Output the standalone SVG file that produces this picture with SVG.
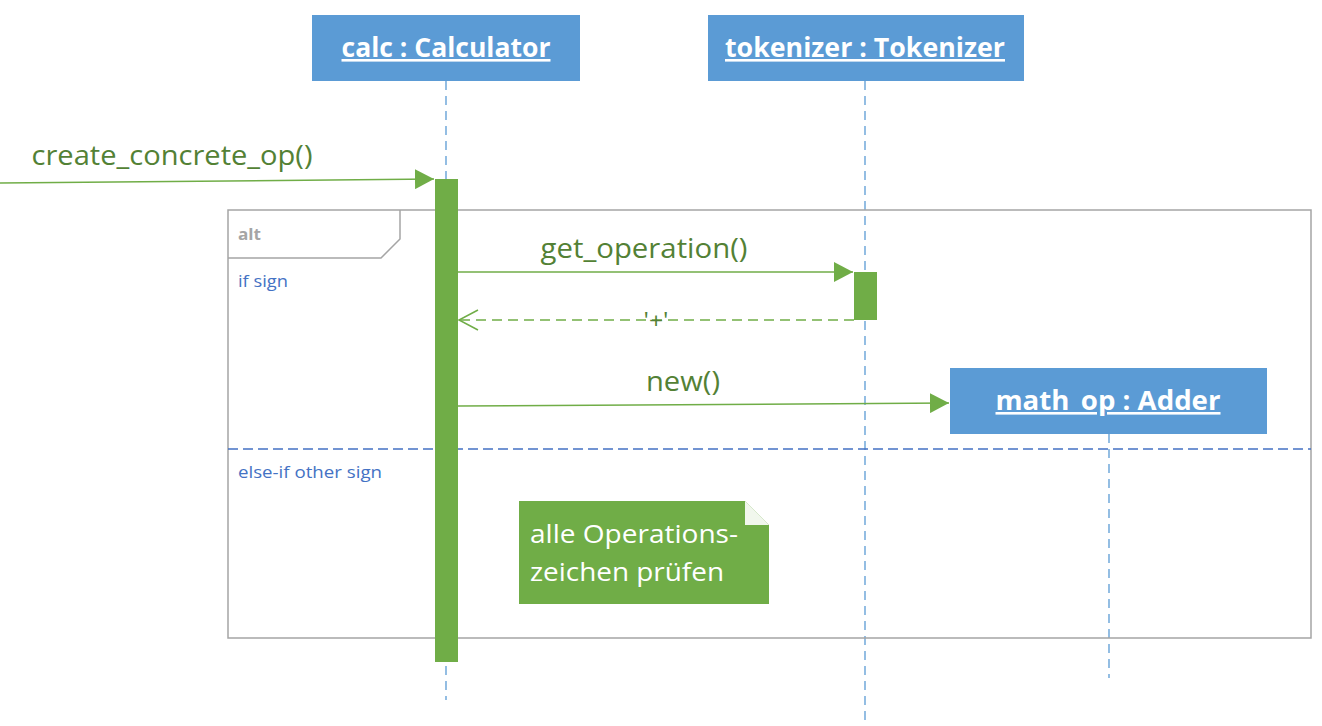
<svg xmlns="http://www.w3.org/2000/svg" width="1322" height="726" viewBox="0 0 1322 726">
<defs>
<style>
.obj{fill:#5B9BD5}
.objt{font-family:"Open Sans","Liberation Sans",sans-serif;font-weight:bold;font-size:26px;fill:#fff;text-decoration:underline;text-anchor:middle}
.life{stroke:#5B9BD5;stroke-width:1.3;stroke-dasharray:9 6;fill:none}
.act{fill:#70AD47}
.msg{stroke:#70AD47;stroke-width:1.5;fill:none}
.msgt{font-family:"Open Sans","Liberation Sans",sans-serif;font-size:27px;fill:#538135;text-anchor:middle}
.frame{stroke:#A5A5A5;stroke-width:1.5;fill:none}
.guard{font-family:"Open Sans","Liberation Sans",sans-serif;font-size:17px;fill:#4472C4}
.note{font-family:"Open Sans","Liberation Sans",sans-serif;font-size:26px;fill:#fff}
</style>
<marker id="filled" markerWidth="20" markerHeight="20" refX="19" refY="10" orient="auto" markerUnits="userSpaceOnUse">
<path d="M0,0 L19,10 L0,20 Z" fill="#70AD47"/>
</marker>
<marker id="open" markerWidth="22" markerHeight="22" refX="20" refY="11" orient="auto" markerUnits="userSpaceOnUse">
<path d="M1,1 L20,11 L1,21" fill="none" stroke="#70AD47" stroke-width="1.5"/>
</marker>
</defs>
<rect width="1322" height="726" fill="#fff"/>

<g id="lifelines">
<line class="life" x1="446" y1="81" x2="446" y2="700"/>
<line class="life" x1="865" y1="81" x2="865" y2="720"/>
<line class="life" x1="1109" y1="434" x2="1109" y2="678"/>
</g>

<g id="alt-frame">
<rect class="frame" x="228" y="210" width="1083" height="428"/>
<path class="frame" d="M228,258 L381,258 L400,239 L400,210"/>
<text x="238" y="240" font-family="Open Sans, Liberation Sans, sans-serif" font-size="16" font-weight="bold" fill="#A5A5A5" textLength="23" lengthAdjust="spacingAndGlyphs">alt</text>
<line x1="228" y1="449" x2="1311" y2="449" stroke="#4472C4" stroke-width="1.3" stroke-dasharray="10 5"/>
<text class="guard" x="238" y="287" textLength="50" lengthAdjust="spacingAndGlyphs">if sign</text>
<text class="guard" x="238" y="478" textLength="144" lengthAdjust="spacingAndGlyphs">else-if other sign</text>
</g>

<g id="calc">
<rect class="obj" x="312" y="15" width="268" height="66"/>
<text class="objt" x="446" y="57" textLength="209" lengthAdjust="spacingAndGlyphs">calc : Calculator</text>
</g>
<g id="tokenizer">
<rect class="obj" x="708" y="15" width="316" height="66"/>
<text class="objt" x="865" y="57" textLength="280" lengthAdjust="spacingAndGlyphs">tokenizer : Tokenizer</text>
</g>
<g id="math_op">
<rect class="obj" x="950" y="368" width="317" height="66"/>
<text class="objt" x="1108" y="410" textLength="225" lengthAdjust="spacingAndGlyphs">math_op : Adder</text>
</g>

<g id="activations">
<rect class="act" x="435" y="179" width="23" height="483"/>
<rect class="act" x="854" y="272" width="23" height="48"/>
</g>

<g id="connectors">
<line class="msg" x1="0" y1="183" x2="434" y2="179" marker-end="url(#filled)"/>
<text class="msgt" x="172" y="165" textLength="281" lengthAdjust="spacingAndGlyphs">create_concrete_op()</text>
<line class="msg" x1="458" y1="272" x2="853" y2="272" marker-end="url(#filled)"/>
<text class="msgt" x="644" y="258" textLength="207" lengthAdjust="spacingAndGlyphs">get_operation()</text>
<line class="msg" x1="854" y1="320" x2="459" y2="320" stroke-dasharray="10 6" marker-end="url(#open)"/>
<text x="656" y="328" font-family="Open Sans, Liberation Sans, sans-serif" font-size="22" fill="#538135" text-anchor="middle" textLength="25" lengthAdjust="spacingAndGlyphs">'+'</text>
<line class="msg" x1="458" y1="406" x2="949" y2="403" marker-end="url(#filled)"/>
<text class="msgt" x="683" y="391" textLength="74" lengthAdjust="spacingAndGlyphs">new()</text>
</g>

<g id="note">
<path d="M519,501 L745,501 L769,525 L769,604 L519,604 Z" fill="#70AD47"/>
<path d="M745,501 L769,525 L745,525 Z" fill="#fff" opacity="0.9"/>
<text class="note" x="530" y="543" textLength="208" lengthAdjust="spacingAndGlyphs">alle Operations-</text>
<text class="note" x="530" y="581" textLength="194" lengthAdjust="spacingAndGlyphs">zeichen prüfen</text>
</g>
</svg>
